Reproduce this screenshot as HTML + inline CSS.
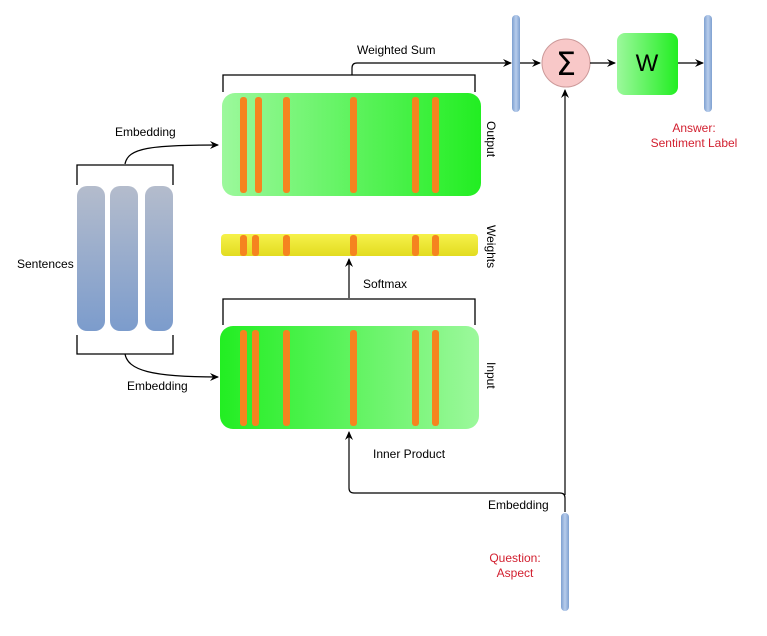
<!DOCTYPE html>
<html><head><meta charset="utf-8"><style>
html,body{margin:0;padding:0;background:#fff;}
svg{display:block;font-family:"Liberation Sans","DejaVu Sans",sans-serif;}
</style></head><body>
<svg width="767" height="636" viewBox="0 0 767 636" xmlns="http://www.w3.org/2000/svg">
<defs>
<linearGradient id="gOut" x1="0" x2="1" y1="0" y2="0"><stop offset="0" stop-color="#9cf89c"/><stop offset="1" stop-color="#22ee22"/></linearGradient>
<linearGradient id="gIn" x1="0" x2="1" y1="0" y2="0"><stop offset="0" stop-color="#22ee22"/><stop offset="1" stop-color="#9cf89c"/></linearGradient>
<linearGradient id="gW" x1="0" x2="1" y1="0" y2="0"><stop offset="0" stop-color="#9cf89c"/><stop offset="1" stop-color="#22ee22"/></linearGradient>
<linearGradient id="gY" x1="0" x2="0" y1="0" y2="1"><stop offset="0" stop-color="#f6f24a"/><stop offset="1" stop-color="#e2dc20"/></linearGradient>
<linearGradient id="gS" x1="0" x2="0" y1="0" y2="1"><stop offset="0" stop-color="#b4bccc"/><stop offset="1" stop-color="#7c9ccc"/></linearGradient>
<linearGradient id="gB" x1="0" x2="1" y1="0" y2="0"><stop offset="0" stop-color="#7ea0d0"/><stop offset="0.5" stop-color="#b8cdec"/><stop offset="1" stop-color="#7ea0d0"/></linearGradient>
<marker id="ar" markerWidth="10" markerHeight="10" refX="8" refY="5" orient="auto" markerUnits="userSpaceOnUse"><path d="M0,1 L9,5 L0,9 L3,5 Z" fill="#000"/></marker>
</defs>

<!-- Sentences -->
<rect x="77" y="186" width="28" height="145" rx="10" fill="url(#gS)"/>
<rect x="110" y="186" width="28" height="145" rx="10" fill="url(#gS)"/>
<rect x="145" y="186" width="28" height="145" rx="10" fill="url(#gS)"/>
<text x="17" y="268" font-size="12">Sentences</text>
<path d="M77,185 V165 H173 V185" stroke="#000" stroke-width="1.3" fill="none"/>
<path d="M77,335 V354 H173 V335" stroke="#000" stroke-width="1.3" fill="none"/>
<path d="M125,164 C128,148 150,145 218,145" stroke="#000" stroke-width="1.2" fill="none" marker-end="url(#ar)"/>
<text x="115" y="136" font-size="12">Embedding</text>
<path d="M125,354 C128,370 150,377 218,377" stroke="#000" stroke-width="1.2" fill="none" marker-end="url(#ar)"/>
<text x="127" y="390" font-size="12">Embedding</text>

<!-- Output -->
<path d="M223,92 V75 H475 V92" stroke="#000" stroke-width="1.3" fill="none"/>
<path d="M352,75 V68 Q352,63 357,63 H511" stroke="#000" stroke-width="1.2" fill="none" marker-end="url(#ar)"/>
<text x="357" y="54" font-size="12">Weighted Sum</text>
<rect x="222" y="93" width="259" height="103" rx="13" fill="url(#gOut)"/>
<g fill="#f5841f">
<rect x="240" y="97" width="7" height="96" rx="3"/><rect x="255" y="97" width="7" height="96" rx="3"/><rect x="283" y="97" width="7" height="96" rx="3"/><rect x="350" y="97" width="7" height="96" rx="3"/><rect x="412" y="97" width="7" height="96" rx="3"/><rect x="432" y="97" width="7" height="96" rx="3"/>
</g>
<text font-size="12" transform="translate(487,121) rotate(90)">Output</text>

<!-- Weights -->
<rect x="221" y="234" width="257" height="22" rx="4" fill="url(#gY)"/>
<g fill="#f5841f">
<rect x="240" y="235" width="7" height="21" rx="3"/><rect x="252" y="235" width="7" height="21" rx="3"/><rect x="283" y="235" width="7" height="21" rx="3"/><rect x="350" y="235" width="7" height="21" rx="3"/><rect x="412" y="235" width="7" height="21" rx="3"/><rect x="432" y="235" width="7" height="21" rx="3"/>
</g>
<text font-size="12" transform="translate(487,225) rotate(90)">Weights</text>
<path d="M349,298 V259" stroke="#000" stroke-width="1.2" fill="none" marker-end="url(#ar)"/>
<text x="363" y="288" font-size="12">Softmax</text>

<!-- Input -->
<path d="M223,325 V299 H475 V325" stroke="#000" stroke-width="1.3" fill="none"/>
<rect x="220" y="326" width="259" height="103" rx="13" fill="url(#gIn)"/>
<g fill="#f5841f">
<rect x="240" y="330" width="7" height="96" rx="3"/><rect x="252" y="330" width="7" height="96" rx="3"/><rect x="283" y="330" width="7" height="96" rx="3"/><rect x="350" y="330" width="7" height="96" rx="3"/><rect x="412" y="330" width="7" height="96" rx="3"/><rect x="432" y="330" width="7" height="96" rx="3"/>
</g>
<text font-size="12" transform="translate(487,362) rotate(90)">Input</text>

<!-- Question -->
<path d="M565,512 V498 Q565,493 560,493 H354 Q349,493 349,488 V432" stroke="#000" stroke-width="1.2" fill="none" marker-end="url(#ar)"/>
<path d="M565,495 V90" stroke="#000" stroke-width="1.2" fill="none" marker-end="url(#ar)"/>
<text x="373" y="458" font-size="12">Inner Product</text>
<text x="488" y="509" font-size="12">Embedding</text>
<rect x="561" y="513" width="8" height="98" rx="4" fill="url(#gB)"/>
<text x="515" y="562" font-size="12" fill="#d21f2f" text-anchor="middle">Question:</text>
<text x="515" y="577" font-size="12" fill="#d21f2f" text-anchor="middle">Aspect</text>

<!-- Top right -->
<rect x="512" y="15" width="8" height="97" rx="4" fill="url(#gB)"/>
<path d="M520,63 H540" stroke="#000" stroke-width="1.2" marker-end="url(#ar)"/>
<circle cx="566" cy="63" r="24" fill="#f8c8c8" stroke="#c99" stroke-width="1"/>
<text x="566" y="75" font-size="32" text-anchor="middle" font-family="DejaVu Sans, sans-serif">Σ</text>
<path d="M590,63 H615" stroke="#000" stroke-width="1.2" marker-end="url(#ar)"/>
<rect x="617" y="33" width="61" height="62" rx="8" fill="url(#gW)"/>
<text x="647" y="71" font-size="24" text-anchor="middle">W</text>
<path d="M678,63 H703" stroke="#000" stroke-width="1.2" marker-end="url(#ar)"/>
<rect x="704" y="15" width="8" height="97" rx="4" fill="url(#gB)"/>
<text x="694" y="132" font-size="12" fill="#d21f2f" text-anchor="middle">Answer:</text>
<text x="694" y="147" font-size="12" fill="#d21f2f" text-anchor="middle">Sentiment Label</text>
</svg>
</body></html>
